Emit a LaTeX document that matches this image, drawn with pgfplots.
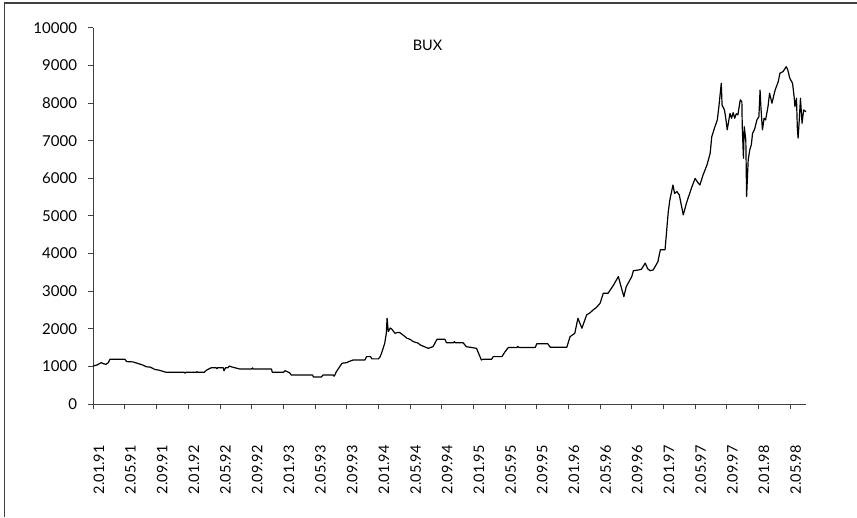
\documentclass[border=0pt]{standalone}
\usepackage{pgfplots}
\pgfplotsset{compat=1.18}
\usepackage{pgfplotstable}
\usepackage{fontspec}
\setmainfont{Lato}
\definecolor{axgray}{HTML}{404040}
\pgfplotstableread{
m v
0 1010
0.5 1040
1 1100
1.3 1070
1.6 1055
1.9 1100
2.1 1190
4.0 1190
4.2 1130
4.4 1125
5.0 1120
5.6 1080
6.2 1040
6.7 990
7.2 980
7.75 920
8.3 900
9.2 843
11.5 843
11.6 820
11.7 843
13.0 843
13.1 860
13.2 843
14.0 843
14.3 900
14.9 965
15.5 965
15.6 940
15.7 965
16.4 965
16.5 885
16.7 965
17.0 965
17.2 1010
17.5 985
18.5 930
20.0 930
20.1 960
20.2 930
22.5 930
22.6 843
24.0 843
24.2 885
24.8 830
25.0 770
27.7 770
27.8 718
28.8 718
29.0 770
30.3 770
30.4 740
30.5 770
30.7 860
31.4 1083
32.0 1100
32.3 1130
32.8 1170
34.3 1170
34.5 1260
35.0 1260
35.2 1200
36.0 1200
36.2 1250
36.4 1350
36.8 1615
37.0 1880
37.1 2280
37.25 1925
37.5 2020
37.7 1990
38.1 1880
38.4 1900
38.7 1900
39.2 1820
39.6 1750
40.0 1720
40.4 1660
41.0 1620
41.3 1570
42.3 1480
42.9 1525
43.4 1720
44.4 1720
44.6 1630
45.5 1630
45.6 1660
45.7 1630
46.7 1630
47.1 1525
48.4 1480
49.0 1170
49.2 1190
50.3 1190
50.5 1260
51.6 1260
52.0 1390
52.4 1500
53.5 1500
53.6 1530
53.8 1500
55.8 1500
56.0 1600
57.4 1600
57.7 1510
59.8 1510
60.2 1790
60.8 1880
61.2 2280
61.7 2015
62.3 2370
62.7 2420
63.1 2500
63.5 2560
64.0 2680
64.4 2945
65.0 2945
65.7 3165
66.3 3390
66.7 3080
67.0 2855
67.3 3120
68.0 3390
68.2 3545
68.7 3560
69.2 3580
69.7 3745
70.0 3600
70.3 3545
70.7 3565
71.3 3785
71.6 4100
72.2 4100
72.4 4600
72.6 5100
72.8 5420
73.2 5825
73.4 5600
73.7 5650
74.0 5560
74.5 5030
74.9 5340
75.1 5470
75.6 5780
76.0 6000
76.3 5900
76.6 5825
77.0 6090
77.5 6360
77.9 6670
78.1 7110
78.5 7375
78.8 7555
79.0 7910
79.3 8530
79.4 7950
79.7 7820
79.9 7555
80.05 7290
80.4 7730
80.6 7600
80.8 7750
81.0 7600
81.2 7720
81.4 7690
81.7 8090
81.9 8040
81.95 7375
82.1 6535
82.2 7375
82.4 7020
82.5 5515
82.7 6490
82.9 6760
83.1 6900
83.25 7200
83.5 7300
83.8 7555
84.05 7640
84.2 8350
84.3 7910
84.5 7290
84.7 7600
84.9 7555
85.2 7910
85.4 8265
85.7 8000
86.1 8350
86.5 8575
86.7 8795
87.1 8840
87.5 8970
87.7 8885
87.95 8665
88.3 8530
88.5 8175
88.6 7910
88.8 8130
88.9 7375
89.0 7070
89.15 7555
89.3 8130
89.5 7465
89.7 7820
90.0 7775
}\buxdata
\begin{document}
\fontsize{14}{16}\selectfont
\begin{tikzpicture}[x=1pt,y=1pt]
\path[use as bounding box] (0,0) rectangle (857,517);
\draw[axgray, line width=1.2pt] (4.7,0) -- (4.7,514) -- (857,514);
\begin{axis}[
  at={(93.3pt,113pt)}, anchor=south west,
  scale only axis, width=712.7pt, height=376pt,
  xmin=0, xmax=90, ymin=0, ymax=10000,
  axis x line*=bottom, axis y line*=left,
  axis line style={axgray, line width=1pt},
  tick style={axgray, line width=1pt},
  tick align=outside, major tick length=5pt,
  ytick={0,1000,...,10000},
  scaled y ticks=false,
  xtick={0,4,...,88},
  xticklabels={2.01.91,2.05.91,2.09.91,2.01.92,2.05.92,2.09.92,2.01.93,2.05.93,2.09.93,2.01.94,2.05.94,2.09.94,2.01.95,2.05.95,2.09.95,2.01.96,2.05.96,2.09.96,2.01.97,2.05.97,2.09.97,2.01.98,2.05.98},
  /pgf/number format/assume math mode=true,
  /pgf/number format/1000 sep={},
  yticklabel style={inner sep=0pt, xshift=-2.5pt, font=\fontsize{15}{16}\selectfont},
  yticklabel shift=8.6pt,
  xticklabel style={yshift=-2pt, rotate=90, anchor=north east, inner sep=0pt, font=\fontsize{14.5}{16}\selectfont},
  xticklabel shift=34pt,
  clip=false,
]
\addplot[black, line width=1.2pt, line join=round, mark=none] table[x=m, y=v] {\buxdata};
\end{axis}
\node[font=\fontsize{14.5}{16}\selectfont] at (427.5,472) {BUX};
\end{tikzpicture}
\end{document}
